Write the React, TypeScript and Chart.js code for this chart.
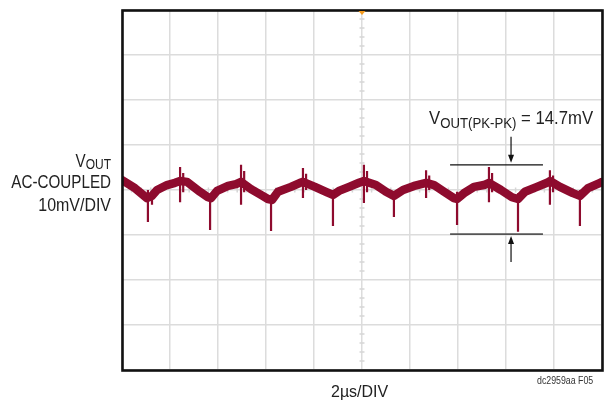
import React, { useEffect, useRef } from "react";
import { Chart, registerables } from "chart.js";

Chart.register(...registerables);

// Waveform centre line (time in µs, voltage in mV, AC-coupled)
const timeUs = [0, 0.54, 1.04, 1.25, 1.46, 1.875, 2.21, 2.42, 2.71, 3.25, 3.58, 3.71, 3.96, 4.42, 4.75, 4.96, 5.375, 5.79, 6.08, 6.25, 6.5, 7.04, 7.42, 7.54, 8.04, 8.5, 8.79, 9.04, 9.46, 9.875, 10.08, 10.58, 11.0, 11.33, 11.71, 12.17, 12.67, 13.0, 13.42, 13.83, 13.96, 14.25, 14.67, 15.08, 15.29, 15.79, 16.25, 16.5, 16.79, 17.29, 17.71, 17.83, 18.25, 18.79, 19.08, 19.42, 19.92, 20];
const voltMv = [2.2, 0.4, -1.8, -1.3, 0, 1.1, 1.6, 2.0, 1.8, -0.4, -1.6, -1.8, -0.2, 0.9, 1.3, 1.8, 0.2, -1.1, -2.0, -2.2, -0.4, 0.7, 1.6, 1.8, 0.7, -0.4, -1.1, -0.2, 0.7, 1.6, 2.0, 1.1, -0.4, -1.3, 0, 0.9, 1.6, 1.1, -0.4, -1.8, -2.0, -0.7, 0.7, 1.1, 1.6, 0, -1.6, -2.0, -0.4, 0.7, 1.6, 2.0, 0.7, -0.7, -1.3, 0.4, 1.6, 1.8];

// Switching spikes (time in µs, top and bottom in mV)
const spikeTimeUs = [1.08, 1.25, 2.42, 2.55, 3.67, 4.96, 5.09, 6.21, 7.54, 7.67, 8.79, 10.08, 10.21, 11.33, 12.67, 12.8, 13.96, 15.29, 15.42, 16.5, 17.83, 17.96, 19.08];
const spikeTopMv = [0, -1.1, 5.1, 3.8, -1.1, 5.6, 4.2, -1.1, 4.9, 3.6, 0, 5.6, 4.2, -0.4, 4.4, 3.2, -0.4, 5.1, 3.8, -0.7, 4.4, 3.2, 0];
const spikeBottomMv = [-7.1, -3.3, -2.7, -0.5, -8.9, -3.3, -0.5, -9.1, -1.8, 0, -8.0, -2.9, -0.5, -6.0, -1.8, 0, -7.8, -2.7, -0.5, -9.3, -3.3, -0.5, -8.0];

// Peak-to-peak annotation
const pkTopMv = 5.6;
const pkBottomMv = -9.8;
const pkLineStartUs = 13.67;
const pkLineEndUs = 17.54;
const pkArrowUs = 16.21;
const pkLabel = " = 14.7mV";

const X_MIN = 0, X_MAX = 20, X_STEP = 2;
const Y_MIN = -40, Y_MAX = 40, Y_STEP = 10;

const FONT = '"Liberation Sans", Arial, sans-serif';
const SX = 0.8;

function txt(ctx: CanvasRenderingContext2D, s: string, x: number, y: number, size: number, align: CanvasTextAlign = "left", color = "#222", sx = SX) {
  ctx.save();
  ctx.font = `${size}px ${FONT}`;
  ctx.fillStyle = color;
  ctx.textAlign = align;
  ctx.textBaseline = "alphabetic";
  ctx.translate(x, y);
  ctx.scale(sx, 1);
  ctx.fillText(s, 0, 0);
  ctx.restore();
}
function tw(ctx: CanvasRenderingContext2D, s: string, size: number, sx = SX) {
  ctx.save();
  ctx.font = `${size}px ${FONT}`;
  const w = ctx.measureText(s).width * sx;
  ctx.restore();
  return w;
}

const scopePlugin = {
  id: "scope",
  beforeDatasetsDraw(chart: any) {
    const { ctx, scales } = chart;
    const xs = scales.x, ys = scales.y;
    const cx = xs.getPixelForValue((X_MIN + X_MAX) / 2);
    const cy = ys.getPixelForValue(0);
    ctx.save();
    ctx.strokeStyle = "#d6d6d6";
    ctx.lineWidth = 1.5;
    ctx.beginPath();
    for (let v = Y_MIN; v <= Y_MAX; v += Y_STEP / 5) {
      if (Math.abs(v % Y_STEP) < 1e-6) continue;
      const y = ys.getPixelForValue(v);
      ctx.moveTo(cx - 2.5, y);
      ctx.lineTo(cx + 2.5, y);
    }
    for (let t = X_MIN; t <= X_MAX + 1e-6; t += X_STEP / 5) {
      const r = t / X_STEP;
      if (Math.abs(r - Math.round(r)) < 1e-6) continue;
      const x = xs.getPixelForValue(t);
      ctx.moveTo(x, cy - 2.5);
      ctx.lineTo(x, cy + 2.5);
    }
    ctx.stroke();
    ctx.restore();
  },
  afterDraw(chart: any) {
    const { ctx, chartArea: a, scales } = chart;
    const xs = scales.x, ys = scales.y;
    ctx.save();
    // frame
    ctx.strokeStyle = "#111";
    ctx.lineWidth = 2.6;
    ctx.strokeRect(a.left + 0.5, a.top + 0.5, a.right - a.left, a.bottom - a.top);
    // trigger marker
    const cx = xs.getPixelForValue((X_MIN + X_MAX) / 2);
    ctx.fillStyle = "#f39a1e";
    ctx.beginPath();
    ctx.moveTo(cx - 3.5, a.top + 1);
    ctx.lineTo(cx + 3.5, a.top + 1);
    ctx.lineTo(cx, a.top + 5);
    ctx.closePath();
    ctx.fill();

    // pk-pk lines
    const x1 = xs.getPixelForValue(pkLineStartUs);
    const x2 = xs.getPixelForValue(pkLineEndUs);
    const yt = ys.getPixelForValue(pkTopMv);
    const yb = ys.getPixelForValue(pkBottomMv);
    const xa = xs.getPixelForValue(pkArrowUs);
    ctx.strokeStyle = "#111";
    ctx.lineWidth = 1.3;
    ctx.beginPath();
    ctx.moveTo(x1, yt); ctx.lineTo(x2, yt);
    ctx.stroke();
    ctx.strokeStyle = "#555";
    ctx.lineWidth = 1.8;
    ctx.beginPath();
    ctx.moveTo(x1, yb); ctx.lineTo(x2, yb);
    ctx.stroke();
    // arrows
    ctx.strokeStyle = "#111";
    ctx.fillStyle = "#111";
    ctx.lineWidth = 1.2;
    ctx.beginPath();
    ctx.moveTo(xa, yt - 28); ctx.lineTo(xa, yt - 8);
    ctx.moveTo(xa, yb + 28); ctx.lineTo(xa, yb + 8);
    ctx.stroke();
    ctx.beginPath();
    ctx.moveTo(xa - 3, yt - 10); ctx.lineTo(xa + 3, yt - 10); ctx.lineTo(xa, yt - 2); ctx.closePath();
    ctx.moveTo(xa - 3, yb + 10); ctx.lineTo(xa + 3, yb + 10); ctx.lineTo(xa, yb + 2); ctx.closePath();
    ctx.fill();
    ctx.restore();

    // annotation text
    const AS = 0.88;
    let x = 429;
    txt(ctx, "V", x, 124, 19, "left", "#222", AS);
    x += tw(ctx, "V", 19, AS);
    txt(ctx, "OUT(PK-PK)", x, 128, 15, "left", "#222", AS);
    x += tw(ctx, "OUT(PK-PK)", 15, AS);
    txt(ctx, pkLabel, x, 124, 19, "left", "#222", AS);

    // left labels
    const rx = 111;
    const wOut = tw(ctx, "OUT", 15);
    txt(ctx, "OUT", rx, 169, 15, "right");
    txt(ctx, "V", rx - wOut, 167, 19, "right");
    txt(ctx, "AC-COUPLED", rx, 188, 19, "right");
    txt(ctx, "10mV/DIV", rx, 211, 19, "right", "#222", 0.84);

    // bottom labels
    txt(ctx, "2µs/DIV", 331, 397, 17, "left", "#222", 0.94);
    txt(ctx, "dc2959aa F05", 537, 384, 10, "left", "#333", 0.88);
  },
};

export default function App() {
  const ref = useRef<HTMLCanvasElement | null>(null);
  useEffect(() => {
    document.body.style.margin = "0";
    const wave = timeUs.map((t, i) => ({ x: t, y: voltMv[i] }));
    const spikes: any[] = [];
    spikeTimeUs.forEach((t, i) => {
      spikes.push({ x: t, y: spikeTopMv[i] });
      spikes.push({ x: t, y: spikeBottomMv[i] });
      spikes.push({ x: t, y: null });
    });
    const chart = new Chart(ref.current as HTMLCanvasElement, {
      type: "line",
      data: {
        datasets: [
          {
            data: spikes,
            borderColor: "#8e0b2e",
            borderWidth: 2.2,
            pointRadius: 0,
            spanGaps: false,
            tension: 0,
          },
          {
            data: wave,
            borderColor: "#8e0b2e",
            borderWidth: 8.5,
            pointRadius: 0,
            tension: 0,
            borderJoinStyle: "round",
            borderCapStyle: "round",
          },
        ],
      },
      options: {
        responsive: false,
        animation: false,
        events: [],
        layout: { padding: { left: 122, top: 10, right: 3, bottom: 35 } },
        plugins: { legend: { display: false }, tooltip: { enabled: false }, title: { display: false } },
        scales: {
          x: {
            type: "linear",
            min: X_MIN,
            max: X_MAX,
            ticks: { display: false, stepSize: X_STEP },
            grid: { color: "#dcdcdc", lineWidth: 1.5, drawTicks: false },
            border: { display: false },
          },
          y: {
            type: "linear",
            min: Y_MIN,
            max: Y_MAX,
            ticks: { display: false, stepSize: Y_STEP },
            grid: { color: "#dcdcdc", lineWidth: 1.5, drawTicks: false },
            border: { display: false },
          },
        },
      },
      plugins: [scopePlugin],
    } as any);
    return () => chart.destroy();
  }, []);
  return (
    <div style={{ position: "fixed", left: 0, top: 0, width: 605, height: 405, background: "#fff" }}>
      <canvas ref={ref} width={605} height={405} style={{ display: "block" }} />
    </div>
  );
}
